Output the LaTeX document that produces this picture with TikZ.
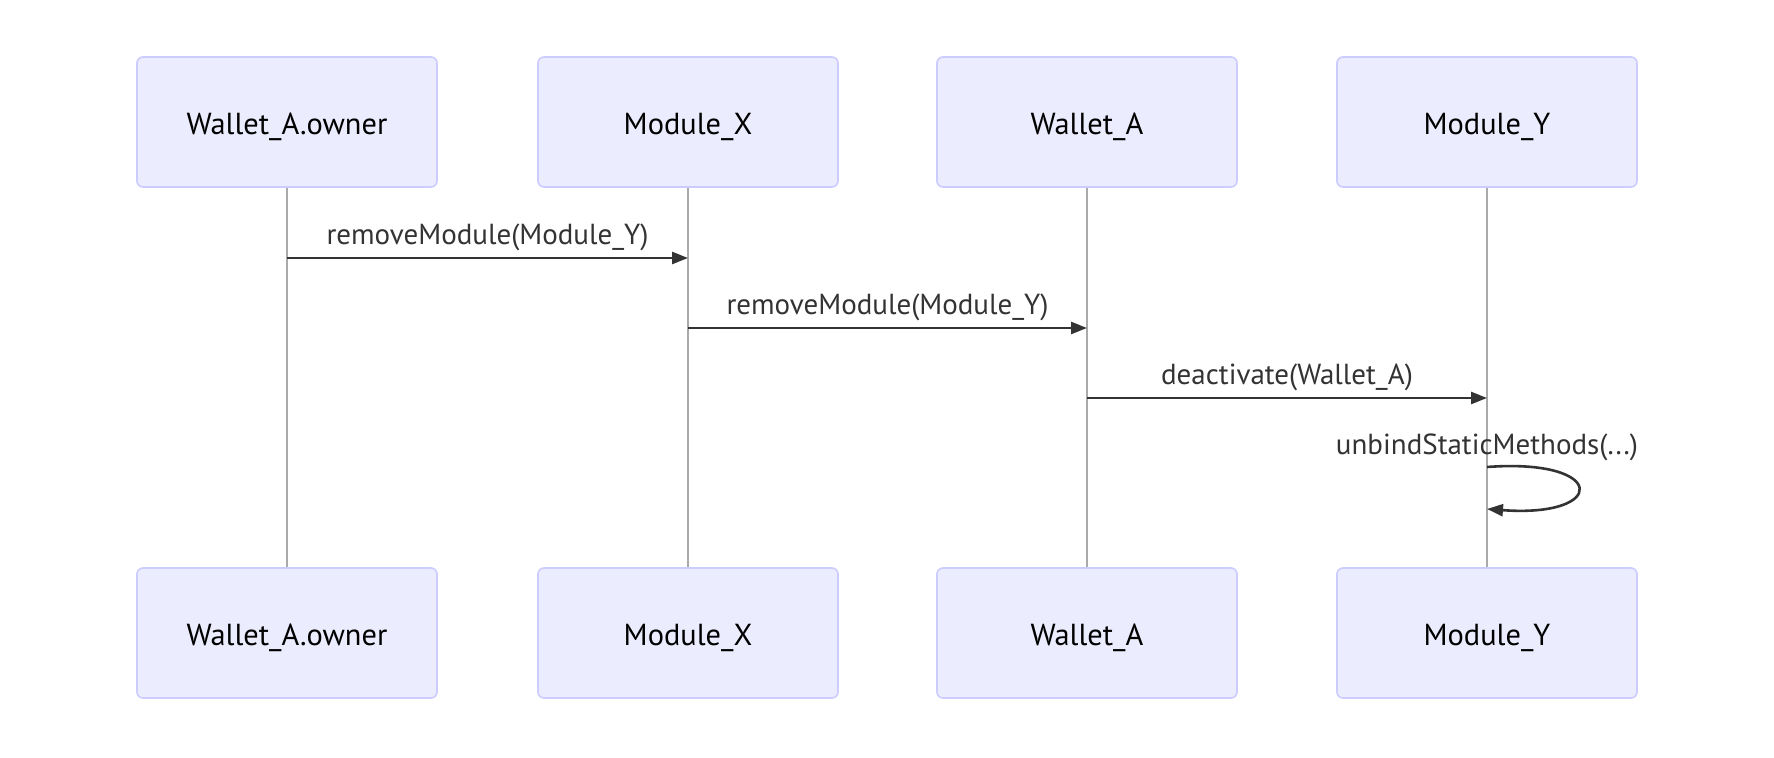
\documentclass[tikz,border=0pt]{standalone}
\usepackage{fontspec}
\setmainfont{PT Sans}
\usetikzlibrary{arrows.meta}
\definecolor{actfill}{HTML}{ECECFF}
\definecolor{actline}{HTML}{CCCCFF}
\definecolor{msg}{HTML}{333333}
\definecolor{life}{HTML}{AAAAAA}
\tikzset{
  actor/.style={draw=actline, fill=actfill, line width=0.8pt, rounded corners=3pt,
    minimum width=150pt, minimum height=65pt, inner sep=0pt, text height=13pt, text depth=0pt,
    font=\fontsize{15.2}{17}\selectfont, text=black},
  lifeline/.style={draw=life, line width=0.7pt},
  message/.style={draw=msg, line width=1.3pt, -{Triangle[length=8pt,width=6pt]}},
  msglabel/.style={font=\fontsize{14.5}{16}\selectfont, text=msg, inner sep=0pt}
}
\begin{document}
\begin{tikzpicture}[x=0.5pt,y=-0.5pt]
\useasboundingbox (0,0) rectangle (1774,758);
% top actors
\node[actor] (t1) at (287,122) {Wallet\_A.owner};
\node[actor] (t2) at (688,122) {Module\_X};
\node[actor] (t3) at (1087,122) {Wallet\_A};
\node[actor] (t4) at (1487,122) {Module\_Y};
% bottom actors
\node[actor] (b1) at (287,633) {Wallet\_A.owner};
\node[actor] (b2) at (688,633) {Module\_X};
\node[actor] (b3) at (1087,633) {Wallet\_A};
\node[actor] (b4) at (1487,633) {Module\_Y};
% lifelines
\draw[lifeline] (t1) -- (b1);
\draw[lifeline] (t2) -- (b2);
\draw[lifeline] (t3) -- (b3);
\draw[lifeline] (t4) -- (b4);
% message anchor coordinates
\coordinate (m1s) at (287,258); \coordinate (m1e) at (688,258);
\coordinate (m2s) at (688,328); \coordinate (m2e) at (1087,328);
\coordinate (m3s) at (1087,398); \coordinate (m3e) at (1487,398);
\coordinate (m4s) at (1487,467); \coordinate (m4e) at (1487,509);
\draw[message] (m1s) -- (m1e);
\draw[message] (m2s) -- (m2e);
\draw[message] (m3s) -- (m3e);
\draw[message] (m4s) .. controls (1608,458) and (1608,518) .. (m4e);
\node[msglabel] (l1) at (487.5,237) {removeModule(Module\_Y)};
\node[msglabel] (l2) at (887.5,307) {removeModule(Module\_Y)};
\node[msglabel] (l3) at (1287,377) {deactivate(Wallet\_A)};
\node[msglabel] (l4) at (1487,447) {unbindStaticMethods(...)};
\end{tikzpicture}
\end{document}
